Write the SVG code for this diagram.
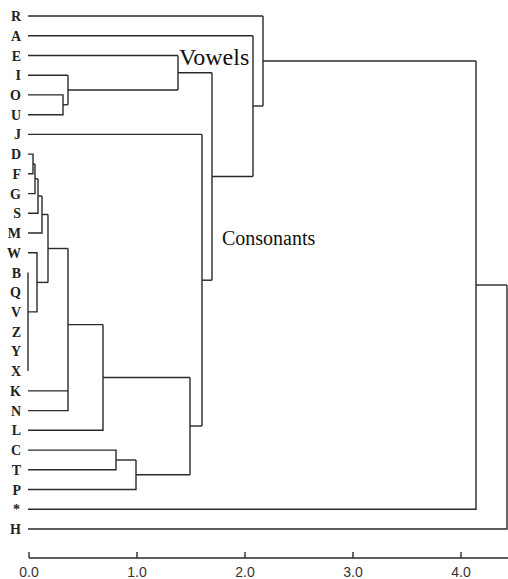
<svg xmlns="http://www.w3.org/2000/svg" width="508" height="579" viewBox="0 0 508 579">
<style>
.lbl{font-family:"Liberation Serif",serif;font-weight:bold;font-size:14px;fill:#222;text-anchor:end}
.ann{font-family:"Liberation Serif",serif;fill:#111}
.ax{font-family:"Liberation Sans",sans-serif;font-size:14px;fill:#333;text-anchor:middle}
.ln{fill:none;stroke:#2a2a2a;stroke-width:1.4}
</style>
<rect width="508" height="579" fill="#fff"/>
<g id="leaves">
<g id="n-R"><text class="lbl" x="21" y="21">R</text></g>
<g id="n-A"><text class="lbl" x="21" y="40.7">A</text></g>
<g id="n-E"><text class="lbl" x="21" y="60.5">E</text></g>
<g id="n-I"><text class="lbl" x="21" y="80.2">I</text></g>
<g id="n-O"><text class="lbl" x="21" y="99.9">O</text></g>
<g id="n-U"><text class="lbl" x="21" y="119.7">U</text></g>
<g id="n-J"><text class="lbl" x="21" y="139.4">J</text></g>
<g id="n-D"><text class="lbl" x="21" y="159.1">D</text></g>
<g id="n-F"><text class="lbl" x="21" y="178.8">F</text></g>
<g id="n-G"><text class="lbl" x="21" y="198.6">G</text></g>
<g id="n-S"><text class="lbl" x="21" y="218.3">S</text></g>
<g id="n-M"><text class="lbl" x="21" y="238">M</text></g>
<g id="n-W"><text class="lbl" x="21" y="257.8">W</text></g>
<g id="n-B"><text class="lbl" x="21" y="277.5">B</text></g>
<g id="n-Q"><text class="lbl" x="21" y="297.2">Q</text></g>
<g id="n-V"><text class="lbl" x="21" y="316.9">V</text></g>
<g id="n-Z"><text class="lbl" x="21" y="336.7">Z</text></g>
<g id="n-Y"><text class="lbl" x="21" y="356.4">Y</text></g>
<g id="n-X"><text class="lbl" x="21" y="376.1">X</text></g>
<g id="n-K"><text class="lbl" x="21" y="395.9">K</text></g>
<g id="n-N"><text class="lbl" x="21" y="415.6">N</text></g>
<g id="n-L"><text class="lbl" x="21" y="435.3">L</text></g>
<g id="n-C"><text class="lbl" x="21" y="455.1">C</text></g>
<g id="n-T"><text class="lbl" x="21" y="474.8">T</text></g>
<g id="n-P"><text class="lbl" x="21" y="494.5">P</text></g>
<g id="n-star"><text class="lbl" x="20" y="514.3">*</text></g>
<g id="n-H"><text class="lbl" x="21" y="534">H</text></g>
</g>
<g id="annotations">
<text class="ann" x="179" y="65" font-size="24">Vowels</text>
<text class="ann" x="222" y="245" font-size="20">Consonants</text>
</g>
<g id="connectors" class="ln">
<!-- vowels -->
<path d="M28 16H263"/>
<path d="M28 35.7H253"/>
<path d="M28 55.5H178"/>
<path d="M28 75.2H68"/>
<path d="M28 94.9H63V114.7H28"/>
<path d="M63 104.8H68"/>
<path d="M68 75.2V104.8"/>
<path d="M68 90H178"/>
<path d="M178 55.5V90"/>
<path d="M178 72.7H212"/>
<!-- consonants -->
<path d="M28 134.4H202"/>
<path d="M28 154.1H33V173.8H28"/>
<path d="M33 164H35"/>
<path d="M28 193.6H35V164"/>
<path d="M35 178.8H38"/>
<path d="M28 213.3H38V178.8"/>
<path d="M38 196H42"/>
<path d="M28 233H42V196"/>
<path d="M42 214.5H48"/>
<path d="M28 252.8H37V311.9H28"/>
<path d="M28 272.5V371.1"/>
<path d="M37 282.4H48"/>
<path d="M48 214.5V282.4"/>
<path d="M48 248.5H68"/>
<path d="M28 390.9H68"/>
<path d="M28 410.6H68V248.5"/>
<path d="M68 324.6H103"/>
<path d="M28 430.3H103V324.6"/>
<path d="M103 377.5H190"/>
<path d="M28 450.1H116V469.8H28"/>
<path d="M116 460H136"/>
<path d="M28 489.5H136V460"/>
<path d="M136 474.7H190"/>
<path d="M190 377.5V474.7"/>
<path d="M190 426H202"/>
<path d="M202 134.4V426"/>
<path d="M202 280.2H212"/>
<path d="M212 72.7V280.2"/>
<path d="M212 176.5H253"/>
<path d="M253 35.7V176.5"/>
<path d="M253 106H263"/>
<path d="M263 16V106"/>
<path d="M263 61H476"/>
<path d="M28 509.3H476V61"/>
<path d="M476 285H507"/>
<path d="M28 529H507V285"/>
</g>
<g id="axis">
<path class="ln" d="M29 558H508M29 558V552M137 558V552M245 558V552M353 558V552M461 558V552"/>
<text class="ax" x="29" y="577">0.0</text>
<text class="ax" x="137" y="577">1.0</text>
<text class="ax" x="245" y="577">2.0</text>
<text class="ax" x="353" y="577">3.0</text>
<text class="ax" x="461" y="577">4.0</text>
</g>
</svg>
